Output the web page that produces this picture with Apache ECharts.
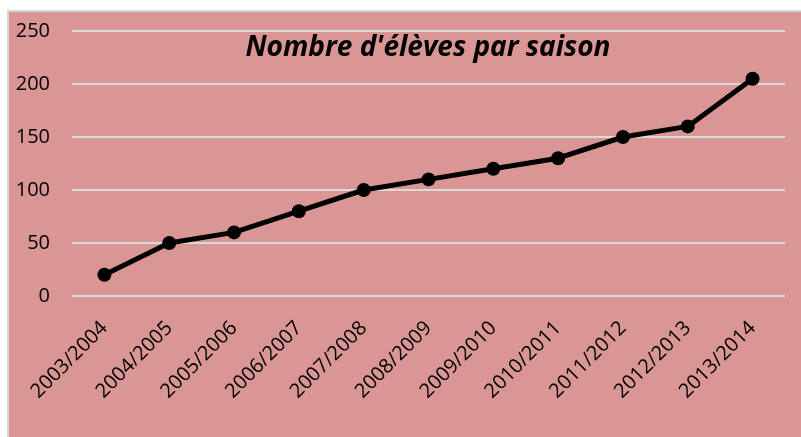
<!DOCTYPE html>
<html>
<head>
<meta charset="utf-8">
<script src="https://cdn.jsdelivr.net/npm/echarts@6/dist/echarts.min.js"></script>
<style>
  html, body { margin: 0; padding: 0; background: #fff; }
  #box {
    position: absolute; left: 7px; top: 10px;
    border-left: 2px solid #d6d6d6; border-top: 2px solid #d6d6d6;
    background: #d99694;
  }
  #chart { width: 792px; height: 425px; }
</style>
</head>
<body>
<div id="box"><div id="chart"></div></div>
<script>
const seasons = ['2003/2004', '2004/2005', '2005/2006', '2006/2007', '2007/2008', '2008/2009',
  '2009/2010', '2010/2011', '2011/2012', '2012/2013', '2013/2014'];
const eleves = [20, 50, 60, 80, 100, 110, 120, 130, 150, 160, 205];

const font = 'Open Sans, Liberation Sans, sans-serif';
const chart = echarts.init(document.getElementById('chart'));
chart.setOption({
  animation: false,
  backgroundColor: '#d99694',
  title: {
    text: "Nombre d'élèves par saison",
    left: 414, top: 17, textAlign: 'center',
    textStyle: { fontFamily: font, fontSize: 28, fontWeight: 'bold', fontStyle: 'italic', color: '#000' }
  },
  grid: { left: 63, top: 19, right: 16, height: 265 },
  xAxis: {
    type: 'category',
    data: seasons,
    axisLine: { show: false },
    axisTick: { show: false },
    axisLabel: { rotate: 45, margin: 29, fontFamily: font, fontSize: 20, color: '#000', interval: 0 }
  },
  yAxis: {
    type: 'value',
    min: 0, max: 250, interval: 50,
    axisLine: { show: false },
    axisTick: { show: false },
    axisLabel: { margin: 22, fontFamily: font, fontSize: 20, color: '#000' },
    splitLine: { lineStyle: { color: '#d9d9d9', width: 2 } }
  },
  series: [{
    type: 'line',
    data: eleves,
    symbol: 'circle',
    symbolSize: 14,
    lineStyle: { color: '#000', width: 5 },
    itemStyle: { color: '#000' }
  }]
});
</script>
</body>
</html>
